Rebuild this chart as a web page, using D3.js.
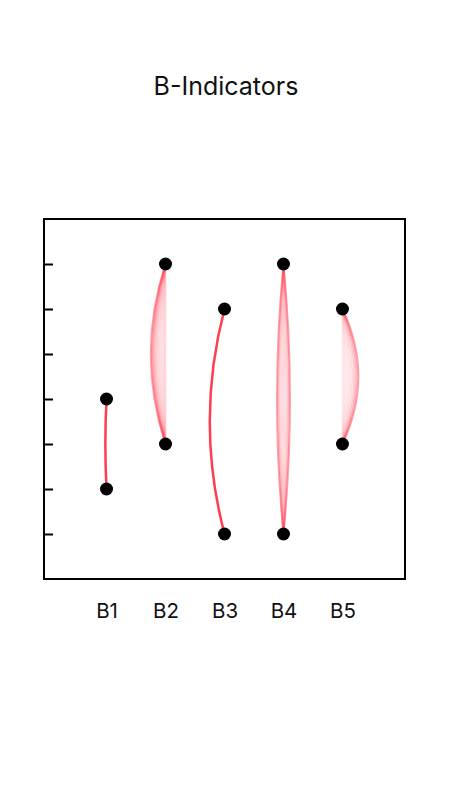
<!DOCTYPE html>
<html>
<head>
<meta charset="utf-8">
<script src="https://cdn.jsdelivr.net/npm/d3@7"></script>
<style>
  body { margin: 0; background: #fff; }
  text { font-family: Inter, "Noto Sans", sans-serif; }
</style>
</head>
<body>
<div id="chart"></div>
<script>
// B-Indicators: low / high value per indicator, joined by arcs
const categories = ["B1", "B2", "B3", "B4", "B5"];
const lowValues  = [2, 3, 1, 1, 3];
const highValues = [4, 7, 6, 7, 6];
// arc bend of each drawn link, in x-step units (negative = bow left)
const bends = [
  [-0.02],
  [-0.25, -0.23, -0.21, -0.19, -0.17, -0.15, -0.13, -0.11, -0.09, -0.07, -0.05, -0.03, -0.01, 0],
  [-0.25],
  [-0.11, -0.09, -0.07, -0.05, -0.03, -0.01, 0.01, 0.03, 0.05, 0.07, 0.09, 0.11],
  [0, 0.03, 0.06, 0.09, 0.12, 0.15, 0.18, 0.21, 0.24, 0.27]
];
const yTicks = [1, 2, 3, 4, 5, 6, 7];

const width = 450, height = 800;
const margin = {left: 44, right: 45, top: 219, bottom: 221};

const svg = d3.select("#chart").append("svg")
    .attr("width", width)
    .attr("height", height);

const xScale = d3.scalePoint()
    .domain(categories)
    .range([margin.left, width - margin.right])
    .padding(1.06);

const yScale = d3.scaleLinear()
    .domain([0, 8])
    .range([height - margin.bottom, margin.top]);

svg.append("text")
    .attr("x", width / 2 + 1)
    .attr("y", 95)
    .attr("text-anchor", "middle")
    .attr("font-size", 25)
    .attr("fill", "#111")
    .text("B-Indicators");

// left ticks, pointing inward, no labels
svg.append("g")
    .attr("transform", `translate(${margin.left},0)`)
    .call(d3.axisRight(yScale).tickValues(yTicks).tickSize(9).tickFormat(""))
    .call(g => g.select(".domain").remove())
    .call(g => g.selectAll("line").attr("stroke", "#000").attr("stroke-width", 2));

// bottom labels
svg.append("g")
    .attr("transform", `translate(0,${height - margin.bottom})`)
    .call(d3.axisBottom(xScale).tickSize(0).tickPadding(24))
    .call(g => g.select(".domain").remove())
    .call(g => g.selectAll("text").attr("font-size", 20.5).attr("fill", "#111")
        .attr("font-family", "Inter, 'Noto Sans', sans-serif"));

// frame
svg.append("rect")
    .attr("x", margin.left)
    .attr("y", margin.top)
    .attr("width", width - margin.left - margin.right)
    .attr("height", height - margin.top - margin.bottom)
    .attr("fill", "none")
    .attr("stroke", "#000")
    .attr("stroke-width", 2);

const step = xScale.step();

categories.forEach((c, i) => {
    const x = xScale(c);
    const y0 = yScale(highValues[i]), y1 = yScale(lowValues[i]);
    const list = bends[i];
    const single = list.length === 1;
    const maxAbs = d3.max(list, b => Math.abs(b));
    list.forEach(b => {
        const p = d3.path();
        p.moveTo(x, y0);
        p.quadraticCurveTo(x + 2 * b * step, (y0 + y1) / 2, x, y1);
        // outermost arcs darker, inner ones faint
        const op = single ? 1 : 0.1 + 0.38 * Math.pow(Math.abs(b) / maxAbs, 4);
        svg.append("path")
            .attr("d", p.toString())
            .attr("fill", "none")
            .attr("stroke", "#ff3d50")
            .attr("stroke-width", single ? 2.5 : 2)
            .attr("stroke-opacity", op);
    });
    [highValues[i], lowValues[i]].forEach(v => {
        svg.append("circle")
            .attr("cx", x)
            .attr("cy", yScale(v))
            .attr("r", 6.5)
            .attr("fill", "#000");
    });
});
</script>
</body>
</html>
